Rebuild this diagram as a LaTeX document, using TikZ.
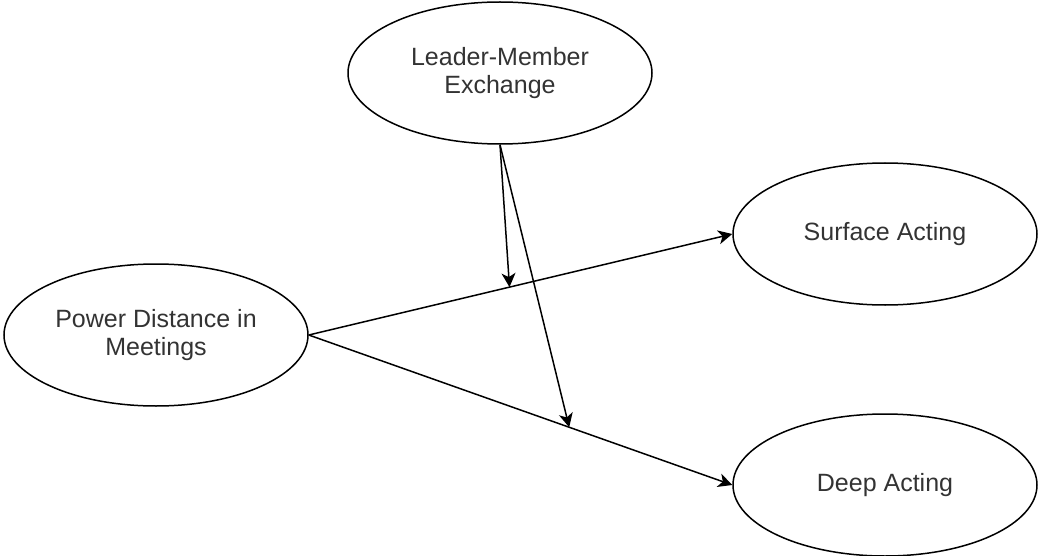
\documentclass[tikz,border=0pt]{standalone}
\usepackage{fontspec}
\setmainfont{Liberation Sans}
\usepackage{tikz}
\usetikzlibrary{arrows.meta, shapes.geometric}
\tikzset{construct/.style={
    ellipse, draw, line width=0.75pt, minimum width=152pt, minimum height=71pt,
    inner sep=0pt, align=center, text=black!80,
    font=\fontsize{12.5pt}{14pt}\selectfont
  },
  path/.style={-{Stealth[length=7pt, width=7pt, inset=2pt]}, line width=0.75pt}
}

\begin{document}
\begin{tikzpicture}[x=0.5pt, y=-0.5pt]
      \useasboundingbox (0,0) rectangle (1039,556);
      \node[construct] (lmx) at (500,73) {Leader-Member\\Exchange};
      \node[construct] (pd) at (156,335) {Power Distance in\\Meetings};
      \node[construct] (sa) at (885,234) {Surface Acting};
      \node[construct] (da) at (885,485) {Deep Acting};
      \draw[path] (pd.east) -- (sa.west) coordinate[pos=0.474] (m1);
      \draw[path] (pd.east) -- (da.west) coordinate[pos=0.615] (m2);
      \draw[path] (lmx.south) -- (m1);
      \draw[path] (lmx.south) -- (m2);
    \end{tikzpicture}
\end{document}
